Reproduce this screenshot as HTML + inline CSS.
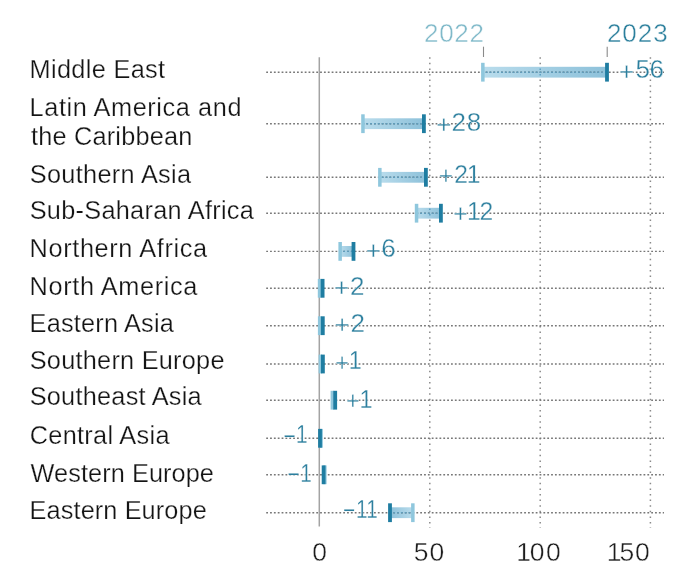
<!DOCTYPE html>
<html><head><meta charset="utf-8"><title>Chart</title>
<style>
html,body{margin:0;padding:0;background:#fff;}
body{width:686px;height:586px;overflow:hidden;}
svg{display:block;}
text{font-family:"Liberation Sans",sans-serif;font-size:25.3px;stroke:#fff;stroke-width:0.4px;}
.lab{fill:#141414;stroke-width:0.25px;}
.val{fill:#2c7f9e;font-size:26px;stroke-width:0.3px;}
.ax{fill:#1d1d1d;font-size:26.5px;}
.hd{font-size:26px;}
</style></head><body>
<svg width="686" height="586" viewBox="0 0 686 586">
<defs>
<linearGradient id="gp" x1="0" x2="1" y1="0" y2="0"><stop offset="0" stop-color="#b9dcec"/><stop offset="1" stop-color="#8dc1da"/></linearGradient>
<linearGradient id="gn" x1="0" x2="1" y1="0" y2="0"><stop offset="0" stop-color="#8dc1da"/><stop offset="1" stop-color="#b9dcec"/></linearGradient>
</defs>
<rect width="686" height="586" fill="#fff"/>

<line x1="429.8" y1="57.2" x2="429.8" y2="528" stroke="#8a8a8a" stroke-width="1.5" stroke-dasharray="1.5 4.1"/>
<line x1="540.2" y1="57.2" x2="540.2" y2="528" stroke="#8a8a8a" stroke-width="1.5" stroke-dasharray="1.5 4.1"/>
<line x1="650.4" y1="57.2" x2="650.4" y2="528" stroke="#8a8a8a" stroke-width="1.5" stroke-dasharray="1.5 4.1"/>
<rect x="482.8" y="66.8" width="124.2" height="10.8" fill="url(#gp)"/>
<rect x="363.0" y="118.3" width="60.9" height="10.8" fill="url(#gp)"/>
<rect x="379.9" y="171.9" width="46.0" height="10.8" fill="url(#gp)"/>
<rect x="416.5" y="207.8" width="24.4" height="10.8" fill="url(#gp)"/>
<rect x="340.1" y="246.0" width="13.4" height="10.8" fill="url(#gp)"/>
<rect x="390.0" y="507.3" width="22.8" height="10.8" fill="url(#gn)"/>
<line x1="266.2" y1="72.2" x2="664" y2="72.2" stroke="#777" stroke-width="1.4" stroke-dasharray="1.8 2.05"/>
<line x1="266.2" y1="123.7" x2="664" y2="123.7" stroke="#777" stroke-width="1.4" stroke-dasharray="1.8 2.05"/>
<line x1="266.2" y1="177.3" x2="664" y2="177.3" stroke="#777" stroke-width="1.4" stroke-dasharray="1.8 2.05"/>
<line x1="266.2" y1="213.2" x2="664" y2="213.2" stroke="#777" stroke-width="1.4" stroke-dasharray="1.8 2.05"/>
<line x1="266.2" y1="251.4" x2="664" y2="251.4" stroke="#777" stroke-width="1.4" stroke-dasharray="1.8 2.05"/>
<line x1="266.2" y1="288.3" x2="664" y2="288.3" stroke="#777" stroke-width="1.4" stroke-dasharray="1.8 2.05"/>
<line x1="266.2" y1="325.7" x2="664" y2="325.7" stroke="#777" stroke-width="1.4" stroke-dasharray="1.8 2.05"/>
<line x1="266.2" y1="364.0" x2="664" y2="364.0" stroke="#777" stroke-width="1.4" stroke-dasharray="1.8 2.05"/>
<line x1="266.2" y1="400.2" x2="664" y2="400.2" stroke="#777" stroke-width="1.4" stroke-dasharray="1.8 2.05"/>
<line x1="266.2" y1="438.3" x2="664" y2="438.3" stroke="#777" stroke-width="1.4" stroke-dasharray="1.8 2.05"/>
<line x1="266.2" y1="474.8" x2="664" y2="474.8" stroke="#777" stroke-width="1.4" stroke-dasharray="1.8 2.05"/>
<line x1="266.2" y1="512.7" x2="664" y2="512.7" stroke="#777" stroke-width="1.4" stroke-dasharray="1.8 2.05"/>
<clipPath id="bars">
<rect x="482.8" y="66.8" width="124.2" height="10.8"/>
<rect x="363.0" y="118.3" width="60.9" height="10.8"/>
<rect x="379.9" y="171.9" width="46.0" height="10.8"/>
<rect x="416.5" y="207.8" width="24.4" height="10.8"/>
<rect x="340.1" y="246.0" width="13.4" height="10.8"/>
<rect x="390.0" y="507.3" width="22.8" height="10.8"/>
</clipPath>
<g clip-path="url(#bars)" stroke="#5d9fc0">
<line x1="429.8" y1="57.2" x2="429.8" y2="528" stroke-width="1.5" stroke-dasharray="1.5 4.1"/>
<line x1="540.2" y1="57.2" x2="540.2" y2="528" stroke-width="1.5" stroke-dasharray="1.5 4.1"/>
<line x1="266.2" y1="72.2" x2="664" y2="72.2" stroke-width="1.4" stroke-dasharray="1.8 2.05"/>
<line x1="266.2" y1="123.7" x2="664" y2="123.7" stroke-width="1.4" stroke-dasharray="1.8 2.05"/>
<line x1="266.2" y1="177.3" x2="664" y2="177.3" stroke-width="1.4" stroke-dasharray="1.8 2.05"/>
<line x1="266.2" y1="213.2" x2="664" y2="213.2" stroke-width="1.4" stroke-dasharray="1.8 2.05"/>
<line x1="266.2" y1="251.4" x2="664" y2="251.4" stroke-width="1.4" stroke-dasharray="1.8 2.05"/>
<line x1="266.2" y1="512.7" x2="664" y2="512.7" stroke-width="1.4" stroke-dasharray="1.8 2.05"/>
</g>
<line x1="319.3" y1="57.3" x2="319.3" y2="526.6" stroke="#a3a3a3" stroke-width="1.5"/>
<rect x="481.1" y="62.8" width="3.5" height="18.8" fill="#8fc7dd"/>
<rect x="605.1" y="62.8" width="3.8" height="18.8" fill="#1f7da1"/>
<rect x="361.2" y="114.3" width="3.5" height="18.8" fill="#8fc7dd"/>
<rect x="422.0" y="114.3" width="3.8" height="18.8" fill="#1f7da1"/>
<rect x="378.1" y="167.9" width="3.5" height="18.8" fill="#8fc7dd"/>
<rect x="424.0" y="167.9" width="3.8" height="18.8" fill="#1f7da1"/>
<rect x="414.8" y="203.8" width="3.5" height="18.8" fill="#8fc7dd"/>
<rect x="439.0" y="203.8" width="3.8" height="18.8" fill="#1f7da1"/>
<rect x="338.4" y="242.0" width="3.5" height="18.8" fill="#8fc7dd"/>
<rect x="351.6" y="242.0" width="3.8" height="18.8" fill="#1f7da1"/>
<rect x="317.8" y="278.9" width="3.5" height="18.8" fill="#8fc7dd"/>
<rect x="320.7" y="278.9" width="3.8" height="18.8" fill="#1f7da1"/>
<rect x="317.9" y="316.3" width="3.5" height="18.8" fill="#8fc7dd"/>
<rect x="320.9" y="316.3" width="3.8" height="18.8" fill="#1f7da1"/>
<rect x="318.6" y="354.6" width="3.5" height="18.8" fill="#8fc7dd"/>
<rect x="321.0" y="354.6" width="3.8" height="18.8" fill="#1f7da1"/>
<rect x="330.6" y="390.8" width="3.5" height="18.8" fill="#8fc7dd"/>
<rect x="333.3" y="390.8" width="3.8" height="18.8" fill="#1f7da1"/>
<rect x="319.4" y="428.9" width="3.5" height="18.8" fill="#8fc7dd"/>
<rect x="318.1" y="428.9" width="3.8" height="18.8" fill="#1f7da1"/>
<rect x="323.1" y="465.4" width="3.5" height="18.8" fill="#8fc7dd"/>
<rect x="321.7" y="465.4" width="3.8" height="18.8" fill="#1f7da1"/>
<rect x="411.1" y="503.3" width="3.5" height="18.8" fill="#8fc7dd"/>
<rect x="388.1" y="503.3" width="3.8" height="18.8" fill="#1f7da1"/>
<line x1="483.5" y1="46.7" x2="483.5" y2="57" stroke="#8a8a8a" stroke-width="1.1"/>
<line x1="607.2" y1="46.7" x2="607.2" y2="57" stroke="#8a8a8a" stroke-width="1.1"/>
<text class="hd" id="h2022" x="424.05" y="41.7" fill="#7fb9c9" letter-spacing="0.684">2022</text>
<text class="hd" id="h2023" x="606.95" y="41.7" fill="#2b7f9c" letter-spacing="0.949">2023</text>
<text class="lab" id="l0" x="29.6" y="77.6" letter-spacing="0.33">Middle East</text>
<text class="lab" id="l1" x="29.6" y="116.0" letter-spacing="0.585">Latin America and</text>
<text class="lab" id="l2" x="31.05" y="144.6" letter-spacing="0.191">the Caribbean</text>
<text class="lab" id="l3" x="29.7" y="182.6" letter-spacing="0.325">Southern Asia</text>
<text class="lab" id="l4" x="29.7" y="219.1" letter-spacing="0.283">Sub-Saharan Africa</text>
<text class="lab" id="l5" x="29.6" y="257.0" letter-spacing="0.632">Northern Africa</text>
<text class="lab" id="l6" x="29.6" y="295.1" letter-spacing="0.629">North America</text>
<text class="lab" id="l7" x="29.6" y="331.6" letter-spacing="0.196">Eastern Asia</text>
<text class="lab" id="l8" x="29.7" y="368.6" letter-spacing="0.254">Southern Europe</text>
<text class="lab" id="l9" x="29.7" y="405.1" letter-spacing="0.242">Southeast Asia</text>
<text class="lab" id="l10" x="29.7" y="443.6" letter-spacing="0.309">Central Asia</text>
<text class="lab" id="l11" x="30.6" y="481.6" letter-spacing="0.077">Western Europe</text>
<text class="lab" id="l12" x="29.6" y="518.6" letter-spacing="0.104">Eastern Europe</text>
<text class="val" id="v0" x="619.04 635.46 649.58" dy="2.00 -2.00 0.00" y="78.0">+56</text>
<text class="val" id="v1" x="436.24 451.41 466.75" dy="1.40 -1.40 0.00" y="131.1">+28</text>
<text class="val" id="v2" transform="scale(0.95,1)" x="461.75 478.13 491.22" dy="1.40 -1.40 0.00" y="182.7">+21</text>
<text class="val" id="v3" transform="scale(0.95,1)" x="477.12 491.53 504.87" dy="1.40 -1.40 0.00" y="220.3">+12</text>
<text class="val" id="v4" x="365.74 381.18" dy="1.40 -1.40" y="257.1">+6</text>
<text class="val" id="v5" x="334.09 350.01" dy="1.40 -1.40" y="294.7">+2</text>
<text class="val" id="v6" x="334.59 350.51" dy="0.90 -0.90" y="331.6">+2</text>
<text class="val" id="v7" transform="scale(0.9,1)" x="372.38 387.60" dy="1.80 -1.80" y="369.5">+1</text>
<text class="val" id="v8" transform="scale(0.9,1)" x="384.33 399.54" dy="1.40 -1.40" y="407.7">+1</text>
<text class="val" id="v9" transform="scale(0.8,1)" x="354.44 370.00" dy="1.40 -1.40" y="443.5">−1</text>
<text class="val" id="v10" transform="scale(0.8,1)" x="359.44 375.25" dy="1.40 -1.40" y="481.8">−1</text>
<text class="val" id="v11" transform="scale(0.8,1)" x="428.75 444.94 457.69" dy="1.40 -1.40 0.00" y="518.0">−11</text>
<text class="ax" id="a0" x="312.23" y="561.1">0</text>
<text class="ax" id="a1" x="413.77 429.62" y="561.1">50</text>
<text class="ax" id="a2" x="516.30 529.67 545.98" y="561.1">100</text>
<text class="ax" id="a3" x="606.70 619.42 634.98" y="561.1">150</text>
</svg></body></html>
